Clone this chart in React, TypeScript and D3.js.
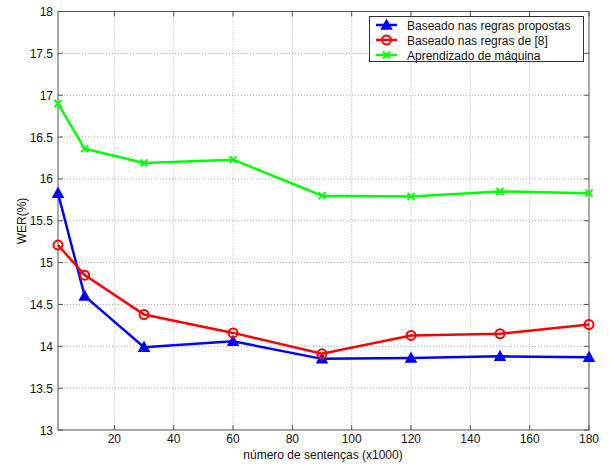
import * as d3 from 'd3'
import { useEffect, useRef } from 'react'

// número de sentenças (x1000)
const sentences = [1, 10, 30, 60, 90, 120, 150, 180]
const regrasPropostas = [15.83, 14.6, 13.99, 14.06, 13.85, 13.86, 13.88, 13.87]
const regras8 = [15.21, 14.85, 14.38, 14.16, 13.91, 14.13, 14.15, 14.26]
const aprendizado = [16.9, 16.36, 16.19, 16.23, 15.8, 15.79, 15.85, 15.83]

const xTicks = [20, 40, 60, 80, 100, 120, 140, 160, 180]
const yTicks = [13, 13.5, 14, 14.5, 15, 15.5, 16, 16.5, 17, 17.5, 18]

const seriesNames = ['Baseado nas regras propostas', 'Baseado nas regras de [8]', 'Aprendizado de máquina']

const App = () => {
  const svgRef = useRef<SVGSVGElement>(null)

  useEffect(() => {
    const svg = d3.select(svgRef.current)
    svg.selectAll('*').remove()

    const left = 58
    const right = 589
    const top = 11.5
    const bottom = 430
    const font = 'Liberation Sans, Arial, sans-serif'

    const x = d3.scaleLinear().domain([1, 180]).range([left, right])
    const y = d3.scaleLinear().domain([13, 18]).range([bottom, top])

    svg.append('rect').attr('width', 609).attr('height', 464).attr('fill', 'white')

    // grid
    svg
      .selectAll('.vgrid')
      .data(xTicks.filter((t) => t < 180))
      .enter()
      .append('line')
      .attr('x1', (d) => x(d))
      .attr('x2', (d) => x(d))
      .attr('y1', top)
      .attr('y2', bottom)
      .attr('stroke', '#aaa')
      .attr('stroke-dasharray', '1,2')
    svg
      .selectAll('.hgrid')
      .data(yTicks.filter((t) => t > 13 && t < 18))
      .enter()
      .append('line')
      .attr('x1', left)
      .attr('x2', right)
      .attr('y1', (d) => y(d))
      .attr('y2', (d) => y(d))
      .attr('stroke', '#aaa')
      .attr('stroke-dasharray', '1,2')

    // box
    svg
      .append('rect')
      .attr('x', left)
      .attr('y', top)
      .attr('width', right - left)
      .attr('height', bottom - top)
      .attr('fill', 'none')
      .attr('stroke', '#555')
      .attr('stroke-width', 1)

    // ticks
    xTicks.forEach((t) => {
      svg.append('line').attr('x1', x(t)).attr('x2', x(t)).attr('y1', bottom).attr('y2', bottom - 5).attr('stroke', '#555')
      svg.append('line').attr('x1', x(t)).attr('x2', x(t)).attr('y1', top).attr('y2', top + 5).attr('stroke', '#555')
      svg
        .append('text')
        .attr('x', x(t))
        .attr('y', 443)
        .attr('text-anchor', 'middle')
        .attr('font-family', font)
        .attr('font-size', 12)
        .attr('fill', '#111')
        .text(t)
    })
    yTicks.forEach((t) => {
      svg.append('line').attr('x1', left).attr('x2', left + 5).attr('y1', y(t)).attr('y2', y(t)).attr('stroke', '#555')
      svg.append('line').attr('x1', right).attr('x2', right - 5).attr('y1', y(t)).attr('y2', y(t)).attr('stroke', '#555')
      svg
        .append('text')
        .attr('x', 53)
        .attr('y', y(t) + 4.5)
        .attr('text-anchor', 'end')
        .attr('font-family', font)
        .attr('font-size', 12)
        .attr('fill', '#111')
        .text(t)
    })

    // axis labels
    svg
      .append('text')
      .attr('x', 323)
      .attr('y', 459)
      .attr('text-anchor', 'middle')
      .attr('font-family', font)
      .attr('font-size', 12)
      .attr('fill', '#111')
      .text('número de sentenças (x1000)')
    svg
      .append('text')
      .attr('transform', 'translate(26,221) rotate(-90)')
      .attr('text-anchor', 'middle')
      .attr('font-family', font)
      .attr('font-size', 12)
      .attr('fill', '#111')
      .text('WER(%)')

    const series = [
      { values: regrasPropostas, color: '#0000ff', marker: 'triangle' },
      { values: regras8, color: '#ff0000', marker: 'circle' },
      { values: aprendizado, color: '#00ff00', marker: 'x' },
    ]

    const drawMarker = (g, cx, cy, s) => {
      if (s.marker === 'triangle') {
        g.append('path')
          .attr('d', `M${cx},${cy - 5}L${cx + 5},${cy + 4}L${cx - 5},${cy + 4}Z`)
          .attr('fill', s.color)
          .attr('stroke', s.color)
          .attr('stroke-width', 1.5)
      } else if (s.marker === 'circle') {
        g.append('circle')
          .attr('cx', cx)
          .attr('cy', cy)
          .attr('r', 4.5)
          .attr('fill', 'none')
          .attr('stroke', s.color)
          .attr('stroke-width', 2)
      } else {
        g.append('path')
          .attr('d', `M${cx - 3.5},${cy - 3.5}L${cx + 3.5},${cy + 3.5}M${cx - 3.5},${cy + 3.5}L${cx + 3.5},${cy - 3.5}`)
          .attr('stroke', s.color)
          .attr('stroke-width', 2)
      }
    }

    const line = d3
      .line<number>()
      .x((d, i) => x(sentences[i]))
      .y((d) => y(d))

    series.forEach((s) => {
      svg
        .append('path')
        .datum(s.values)
        .attr('d', line)
        .attr('fill', 'none')
        .attr('stroke', s.color)
        .attr('stroke-width', 2.5)
      const g = svg.append('g')
      s.values.forEach((v, i) => drawMarker(g, x(sentences[i]), y(v), s))
    })

    // legend
    const lg = svg.append('g')
    lg.append('rect')
      .attr('x', 369.5)
      .attr('y', 16.5)
      .attr('width', 214)
      .attr('height', 45)
      .attr('fill', 'white')
      .attr('stroke', '#333')
      .attr('stroke-width', 1)
    series.forEach((s, i) => {
      const ly = 25 + i * 15
      lg.append('line')
        .attr('x1', 376)
        .attr('x2', 397)
        .attr('y1', ly)
        .attr('y2', ly)
        .attr('stroke', s.color)
        .attr('stroke-width', 2.5)
      drawMarker(lg, 386.5, ly, s)
      lg.append('text')
        .attr('x', 407)
        .attr('y', ly + 4.5)
        .attr('font-family', font)
        .attr('font-size', 12)
        .attr('fill', '#111')
        .text(seriesNames[i])
    })
  }, [])

  return (
    <svg
      ref={svgRef}
      width={609}
      height={464}
      style={{ position: 'absolute', left: 0, top: 0 }}
    ></svg>
  )
}

export default App
